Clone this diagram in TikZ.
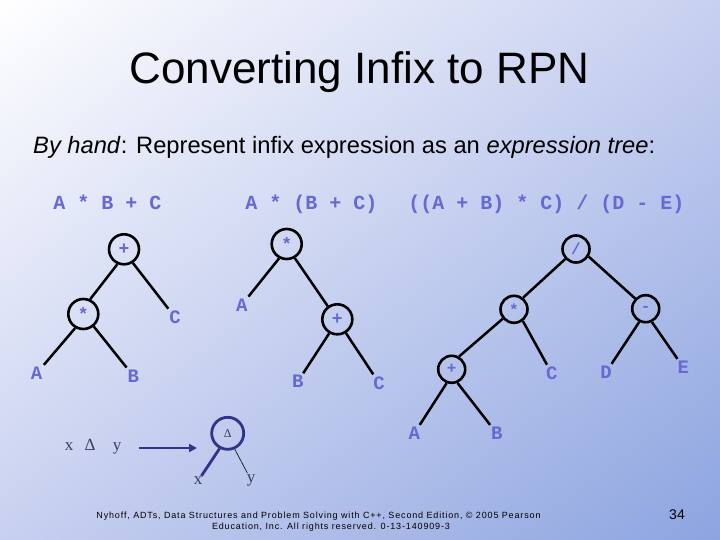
\documentclass[tikz,border=0pt]{standalone}
\usepackage{fontspec}
\setmainfont{Liberation Sans}
\newfontfamily\monof{Liberation Mono}
\newfontfamily\seriff{Liberation Serif}
\newfontfamily\footf{Liberation Sans}[LetterSpace=9.5]
\usetikzlibrary{arrows.meta,shadings}
\definecolor{bgtl}{RGB}{255,255,255}
\definecolor{bgtr}{RGB}{200,208,240}
\definecolor{bgbl}{RGB}{200,208,240}
\definecolor{bgbr}{RGB}{140,164,224}
\definecolor{treecol}{RGB}{104,104,210}
\definecolor{navy}{RGB}{51,51,136}
\definecolor{greyblue}{RGB}{60,60,96}
\begin{document}
\begin{tikzpicture}[x=1pt,y=-1pt,
  op/.style={circle,draw=black,line width=2.6pt,minimum size=30pt,inner sep=0pt,text=treecol,font=\monof\bfseries\fontsize{18}{18}\selectfont},
  opsm/.style={op,minimum size=27pt,font=\monof\bfseries\fontsize{16}{16}\selectfont},
  leaf/.style={text=treecol,inner sep=2pt,font=\monof\bfseries\fontsize{19}{19}\selectfont},
  expr/.style={text=treecol,anchor=base,inner sep=0pt,font=\monof\bfseries\fontsize{20}{20}\selectfont},
  edge/.style={line width=2.5pt,black},
  sv/.style={text=greyblue,inner sep=1pt,font=\seriff\fontsize{17}{17}\selectfont}]
\useasboundingbox (0,0) rectangle (720,540);
\shade[upper left=bgtl,upper right=bgtr,lower left=bgbl,lower right=bgbr] (0,0) rectangle (720,540);

% title
\node[anchor=base,inner sep=0pt,font=\fontsize{44}{44}\selectfont] (title) at (359.5,84) {Converting Infix to RPN};
\node[anchor=base west,inner sep=0pt,font=\fontsize{23.7}{24}\selectfont] (sub) at (33,154) {\textit{By hand}: Represent infix expression as an \textit{expression tree}:};

% expressions
\node[expr] (e1) at (107.5,209.5) {A * B + C};
\node[expr] (e2) at (311.5,209.5) {A * (B + C)};
\node[expr] (e3) at (546.5,209.5) {((A + B) * C) / (D - E)};

% tree 1
\node[op] (t1p) at (124,249.3) {+};
\node[op] (t1m) at (83.3,314) {*};
\node[leaf] (t1C) at (175,317.3) {C};
\node[leaf] (t1A) at (36.7,373.3) {A};
\node[leaf] (t1B) at (133.3,376) {B};
\draw[edge] (t1p.-114) -- (t1m.65);
\draw[edge] (t1p.-57) -- (t1C);
\draw[edge] (t1m.-120) -- (t1A);
\draw[edge] (t1m.-50) -- (t1B);

% tree 2
\node[op] (t2m) at (286.7,244) {*};
\node[leaf] (t2A) at (241.7,305) {A};
\node[op] (t2p) at (337.3,319.3) {+};
\node[leaf] (t2B) at (297.7,381.7) {B};
\node[leaf] (t2C) at (379,383) {C};
\draw[edge] (t2m.-118) -- (t2A);
\draw[edge] (t2m.-60) -- (t2p.126);
\draw[edge] (t2p.-120) -- (t2B);
\draw[edge] (t2p.-58) -- (t2C);

% tree 3
\node[opsm] (t3d) at (576,249) {/};
\node[opsm] (t3m) at (514,309.3) {*};
\node[opsm] (t3s) at (645.7,308.7) {-};
\node[opsm] (t3p) at (451.7,369.3) {+};
\node[leaf] (t3C) at (551.7,373.3) {C};
\node[leaf] (t3D) at (606,372.3) {D};
\node[leaf] (t3E) at (683.3,367.3) {E};
\node[leaf] (t3A) at (414.3,433.3) {A};
\node[leaf] (t3B) at (496.7,433.3) {B};
\draw[edge] (t3d.-137) -- (t3m.52);
\draw[edge] (t3d.-31) -- (t3s.136);
\draw[edge] (t3m.-140) -- (t3p.60);
\draw[edge] (t3m.-53) -- (t3C);
\draw[edge] (t3s.-116) -- (t3D);
\draw[edge] (t3s.-65) -- (t3E);
\draw[edge] (t3p.-110) -- (t3A);
\draw[edge] (t3p.-67) -- (t3B);

% x Delta y
\node[sv] (sx) at (69,447) {x};
\node[sv] (sd) at (90,445) {Δ};
\node[sv] (sy) at (117,448) {y};
\coordinate (as) at (139,448);
\coordinate (ae) at (197,448);
\draw[navy,line width=2.5pt,-{Triangle[length=8pt,width=8pt]}] (as) -- (ae);
\node[circle,draw=navy,line width=2.8pt,minimum size=32pt,inner sep=0pt,text=greyblue,font=\seriff\fontsize{12}{12}\selectfont] (dc) at (227.7,433.3) {Δ};
\node[sv] (bx) at (198,481) {x};
\node[sv] (by) at (251,480) {y};
\draw[navy,line width=2.8pt] (dc.-118) -- (bx);
\draw[black,line width=0.6pt] (dc.-66) -- (by);

% footer
\node[inner sep=0pt,font=\footf\fontsize{9}{9}\selectfont] (f1) at (318.5,516) {Nyhoff, ADTs, Data Structures and Problem Solving with C++, Second Edition, © 2005 Pearson};
\node[inner sep=0pt,font=\footf\fontsize{9}{9}\selectfont] (f2) at (331,527) {Education, Inc. All rights reserved. 0-13-140909-3};
\node[inner sep=0pt,font=\fontsize{14}{14}\selectfont] (pg) at (677,515) {34};
\end{tikzpicture}
\end{document}
